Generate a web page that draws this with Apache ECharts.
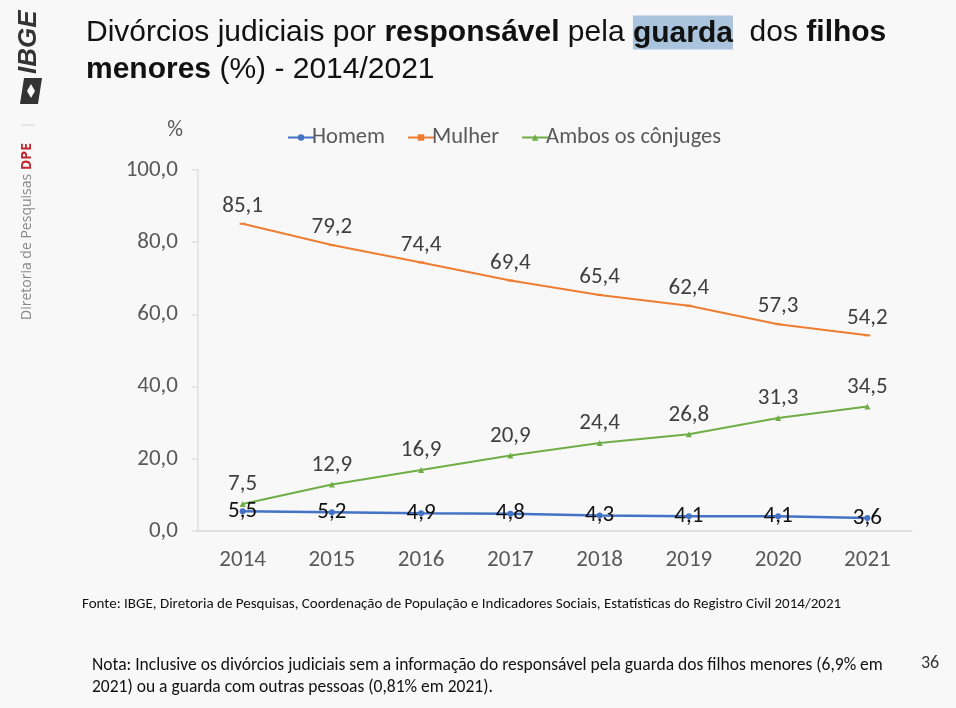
<!DOCTYPE html>
<html><head><meta charset="utf-8">
<script src="https://cdn.jsdelivr.net/npm/echarts@6/dist/echarts.min.js"></script>
<style>html,body{margin:0;padding:0;background:#f8f8f8;}#c{width:956px;height:708px;}</style>
</head><body><div id="c"></div>
<script>
const years = ['2014','2015','2016','2017','2018','2019','2020','2021'];
const homem = [5.5,5.2,4.9,4.8,4.3,4.1,4.1,3.6];
const mulher = [85.1,79.2,74.4,69.4,65.4,62.4,57.3,54.2];
const ambos = [7.5,12.9,16.9,20.9,24.4,26.8,31.3,34.5];
const seriesNames = ['Homem','Mulher','Ambos os cônjuges'];
const fmt = v => v.toFixed(1).replace('.', ',');
const chart = echarts.init(document.getElementById('c'));
const lblFont = "Carlito, Calibri, 'Open Sans', sans-serif";
const tFont = "'Liberation Sans', Arial, sans-serif";
chart.setOption({
  backgroundColor:'#f8f8f8',
  animation:false,
  title:{
    left:81, top:9,
    text:'Divórcios judiciais por {b|responsável} pela {h|guarda}  dos {b|filhos}\n{b|menores} (%) - 2014/2021',
    textStyle:{
      fontFamily:tFont, fontSize:30, fontWeight:'normal', color:'#111', lineHeight:37,
      rich:{
        b:{fontFamily:tFont, fontSize:30, fontWeight:'bold', color:'#111', lineHeight:37},
        h:{fontFamily:tFont, fontSize:30, fontWeight:'bold', color:'#111', backgroundColor:'#a9c4dc', lineHeight:37, padding:[3,0,1,0]}
      }
    }
  },
  legend:{
    top:121, left:282, itemGap:22, itemWidth:26, itemHeight:8,
    textStyle:{fontFamily:lblFont, fontSize:22.5, color:'#595959', padding:[0,0,0,-7]},
    data:seriesNames
  },
  grid:{left:198, right:44, top:170, bottom:177},
  xAxis:{
    type:'category', data:years, boundaryGap:true,
    axisLine:{lineStyle:{color:'#d9d9d9', width:1.5}}, axisTick:{show:false},
    axisLabel:{fontFamily:lblFont, fontSize:23, color:'#595959', margin:18}
  },
  yAxis:{
    type:'value', min:0, max:100, interval:20,
    name:'%', nameLocation:'end', nameGap:29,
    nameTextStyle:{fontFamily:lblFont, fontSize:22, color:'#595959', align:'right', padding:[0,15,0,0]},
    axisLine:{show:true, lineStyle:{color:'#e0e0e0', width:1.5}},
    axisTick:{show:true, length:6, lineStyle:{color:'#e0e0e0', width:1.5}},
    splitLine:{show:false},
    axisLabel:{fontFamily:lblFont, fontSize:23, color:'#595959', margin:20, formatter:v=>fmt(v)}
  },
  series:[
    {name:seriesNames[0], type:'line', data:homem, color:'#4472c4', symbol:'circle', symbolSize:6,
     lineStyle:{width:2.5},
     label:{show:true, position:'inside', fontFamily:lblFont, fontSize:23, color:'#111', formatter:p=>fmt(p.value)}},
    {name:seriesNames[1], type:'line', data:mulher, color:'#ed7d31', symbol:'rect', symbolSize:[6,2],
     lineStyle:{width:2},
     label:{show:true, position:'top', distance:5, fontFamily:lblFont, fontSize:23, color:'#404040', formatter:p=>fmt(p.value)}},
    {name:seriesNames[2], type:'line', data:ambos, color:'#70ad47', symbol:'triangle', symbolSize:6,
     lineStyle:{width:2},
     label:{show:true, position:'top', distance:5, fontFamily:lblFont, fontSize:23, color:'#404040', formatter:p=>fmt(p.value)}}
  ],
  graphic:[
    {type:'text', x:16, y:74, rotation:Math.PI/2, style:{text:'IBGE', font:"italic bold 26px 'Liberation Sans', Arial, sans-serif", fill:'#333', textAlign:'left', textVerticalAlign:'top'}},
    {type:'polygon', shape:{points:[[20,104],[38,104],[42,78],[24,78]]}, style:{fill:'#333'}},
    {type:'polygon', shape:{points:[[31,84],[35,91],[31,98],[27,91]]}, style:{fill:'#f8f8f8'}},
    {type:'text', x:20, y:320, rotation:Math.PI/2, style:{text:'Diretoria de Pesquisas', font:"14px 'Open Sans', sans-serif", fill:'#888', textAlign:'left', textVerticalAlign:'top'}},
    {type:'text', x:20, y:170, rotation:Math.PI/2, style:{text:'DPE', font:"bold 14px 'Open Sans', sans-serif", fill:'#c0282d', textAlign:'left', textVerticalAlign:'top'}},
    {type:'rect', shape:{x:21, y:124, width:14, height:2}, style:{fill:'#e6e6e6'}},
    {type:'text', x:82, y:597, style:{text:'Fonte: IBGE, Diretoria de Pesquisas, Coordenação de População e Indicadores Sociais, Estatísticas do Registro Civil 2014/2021', font:"15px "+lblFont, fill:'#111'}},
    {type:'text', x:92, y:655, style:{text:'Nota: Inclusive os divórcios judiciais sem a informação do responsável pela guarda dos filhos menores (6,9% em\n2021) ou a guarda com outras pessoas (0,81% em 2021).', font:"17.5px "+lblFont, fill:'#111', lineHeight:22}},
    {type:'text', x:921, y:654, style:{text:'36', font:"18px "+lblFont, fill:'#333'}}
  ]
});
</script></body></html>
